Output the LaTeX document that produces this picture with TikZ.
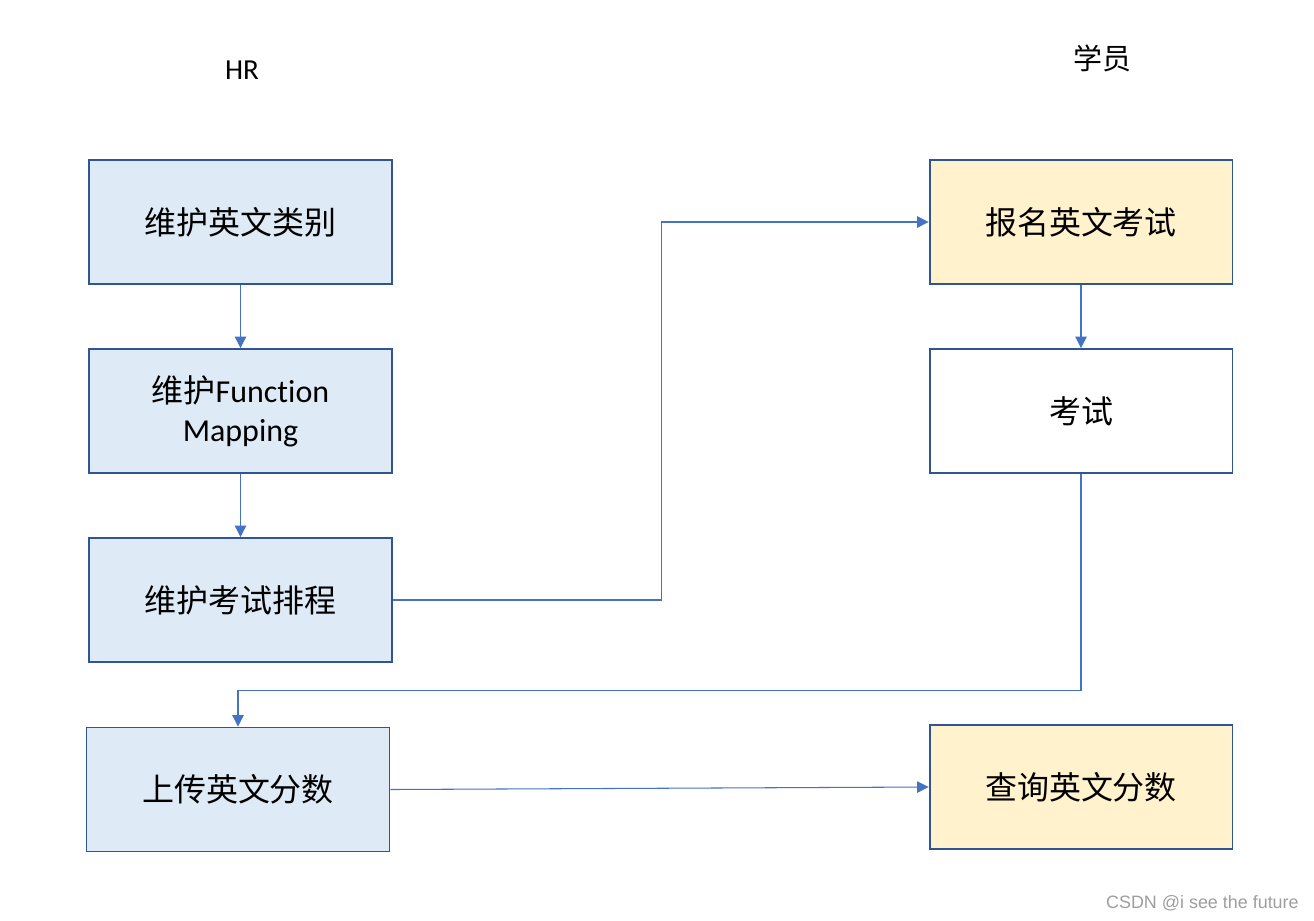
\documentclass[tikz,border=0pt]{standalone}
\usepackage{fontspec}
\setmainfont[Ligatures={NoCommon,NoDiscretionary,NoRare}]{Carlito}
\newfontfamily\cjk{Noto Sans CJK SC}
\newfontfamily\wmfont{Liberation Sans}
\usetikzlibrary{arrows.meta}

\definecolor{boxblue}{HTML}{DEEBF7}
\definecolor{boxyellow}{HTML}{FFF2CC}
\definecolor{boxline}{HTML}{2F5597}
\definecolor{arrline}{HTML}{4472C4}

\tikzset{
	stepbox/.style={draw=boxline, line width=1.1pt, minimum width=6.06cm, minimum height=2.48cm,
		align=center, inner sep=0pt, font=\fontsize{18.2}{22}\selectfont},
	hrbox/.style={stepbox, fill=boxblue},
	stubox/.style={stepbox, fill=boxyellow},
	arr/.style={draw=arrline, line width=0.6pt, -{Triangle[length=6.5pt,width=6.5pt]}},
	lanetitle/.style={font=\fontsize{16.5}{20}\selectfont}
}

\begin{document}
\begin{tikzpicture}[x=0.02cm, y=-0.02cm]
			%%%%% START %%%%%
			\useasboundingbox[fill=white] (0, 0) rectangle (1314, 920);
			
			\node[lanetitle] (hr) at (242, 70) {HR};
			\node[lanetitle] (stu) at (1102, 58) {\cjk 学员};
			
			% HR column
			\node[hrbox] (cat) at (240.5, 222) {\cjk 维护英文类别};
			\node[hrbox] (fmap) at (240.5, 411) {{\cjk 维护}Function\\Mapping};
			\node[hrbox] (sched) at (240.5, 600) {\cjk 维护考试排程};
			\node[hrbox] (upload) at (238, 789.5) {\cjk 上传英文分数};
			
			% student column
			\node[stubox] (enroll) at (1081, 222) {\cjk 报名英文考试};
			\node[stepbox, fill=white] (exam) at (1081, 411) {\cjk 考试};
			\node[stubox] (query) at (1081, 787) {\cjk 查询英文分数};
			
			\draw[arr] (cat.south) -- (fmap.north);
			\draw[arr] (fmap.south) -- (sched.north);
			\draw[arr] (sched.east) -- ++(269, 0) |- (enroll.west);
			\draw[arr] (enroll.south) -- (exam.north);
			\draw[arr] (exam.south) -- ++(0, 217) -| (upload.north);
			\draw[arr] (upload.east) -- (query.west);
			
			\node[anchor=east, text=black!38, font=\wmfont\fontsize{10.2}{12}\selectfont, inner sep=0pt] (wm) at (1299, 903) {CSDN @i see the future};
			
			%%%%% END %%%%%
\end{tikzpicture}
\end{document}
